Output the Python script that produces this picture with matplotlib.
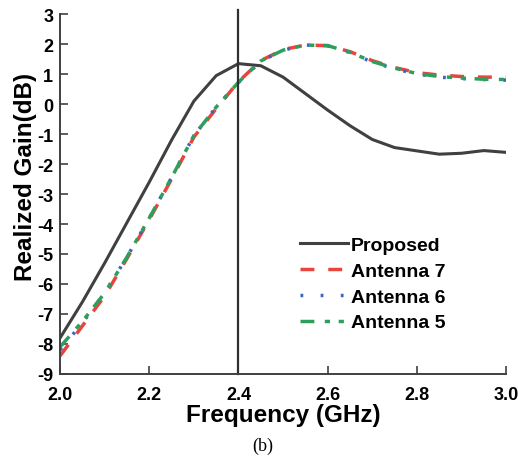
import numpy as np
import matplotlib
matplotlib.use("Agg")
import matplotlib.pyplot as plt

###########################################
# DATA
###########################################
freq = [2.0, 2.05, 2.1, 2.15, 2.2, 2.25, 2.3, 2.35, 2.4, 2.45, 2.5, 2.55,
        2.6, 2.65, 2.7, 2.75, 2.8, 2.85, 2.9, 2.95, 3.0]

proposed = [-7.8, -6.6, -5.3, -3.95, -2.6, -1.2, 0.1, 0.95, 1.35, 1.28, 0.9, 0.35,
            -0.2, -0.72, -1.18, -1.45, -1.56, -1.67, -1.64, -1.55, -1.61]
antenna7 = [-8.4, -7.4, -6.4, -5.15, -3.85, -2.5, -1.1, -0.15, 0.75, 1.45, 1.82, 1.97,
            1.95, 1.75, 1.45, 1.22, 1.05, 0.97, 0.92, 0.9, 0.9]
antenna6 = [-8.2, -7.3, -6.3, -5.1, -3.8, -2.45, -1.05, -0.1, 0.72, 1.43, 1.8, 1.97,
            1.95, 1.72, 1.4, 1.18, 1.0, 0.9, 0.85, 0.82, 0.8]
antenna5 = [-8.1, -7.25, -6.3, -5.1, -3.8, -2.45, -1.05, -0.1, 0.73, 1.44, 1.8, 1.97,
            1.95, 1.73, 1.42, 1.2, 1.02, 0.92, 0.87, 0.83, 0.82]

xticks = [2.0, 2.2, 2.4, 2.6, 2.8, 3.0]
yticks = list(range(-9, 4))

###########################################
# PLOT
###########################################
plt.rcParams['font.family'] = ['Liberation Sans', 'DejaVu Sans']
plt.rcParams['font.weight'] = 'bold'
plt.rcParams['axes.unicode_minus'] = False

fig = plt.figure(figsize=(5.18, 4.6), dpi=100)
ax = fig.add_axes([0.116, 0.185, 0.861, 0.782])

ax.plot(freq, proposed, color='#404040', lw=2.2, label='Proposed')
ax.plot(freq, antenna7, color='#e8453c', lw=2.5, linestyle=(0, (4, 4)), label='Antenna 7')
ax.plot(freq, antenna6, color='#3a66c0', lw=2.5, linestyle=(0, (0.8, 5)), label='Antenna 6')
ax.plot(freq, antenna5, color='#2e9e5e', lw=2.5,
        linestyle=(0, (4, 3, 1.5, 2.5, 1.5, 2.5)), label='Antenna 5')

ax.axvline(2.4, ymin=0, ymax=1.012, color='#303030', lw=1.6, clip_on=False)

ax.set_xlim(2.0, 3.0)
ax.set_ylim(-9, 3)
ax.set_xticks(xticks)
ax.set_xticklabels(['%.1f' % v for v in xticks])
ax.set_yticks(yticks)
ax.tick_params(direction='in', length=6, width=1.2, labelsize=13, color='#404040')
ax.tick_params(axis='x', pad=9)
ax.tick_params(axis='y', pad=5)
for lab in ax.get_xticklabels() + ax.get_yticklabels():
    lab.set_fontweight('bold')

ax.spines['top'].set_visible(False)
ax.spines['right'].set_visible(False)
ax.spines['left'].set_color('#404040')
ax.spines['bottom'].set_color('#404040')
ax.spines['left'].set_linewidth(1.4)
ax.spines['bottom'].set_linewidth(1.4)

ax.set_xlabel('Frequency (GHz)', fontsize=17.5, fontweight='bold')
ax.set_ylabel('Realized Gain(dB)', fontsize=17.5, fontweight='bold')
# label centres from the reference (pixels -> axes coords)
ax.xaxis.set_label_coords(0.5, -0.114)
ax.yaxis.set_label_coords(-0.077, 0.55)
ax.yaxis.label.set_va('center')
ax.xaxis.label.set_va('center')

leg = ax.legend(loc='lower left', bbox_to_anchor=(0.538, 0.118), frameon=False,
                prop={'size': 14, 'weight': 'bold'}, handlelength=2.45,
                handletextpad=0.15, labelspacing=0.42, borderpad=0, borderaxespad=0)

fig.text(0.508, 0.03, '(b)', fontsize=13, fontweight='normal',
         family='Liberation Serif', ha='center', va='center')

plt.savefig('out.png', dpi=100)
